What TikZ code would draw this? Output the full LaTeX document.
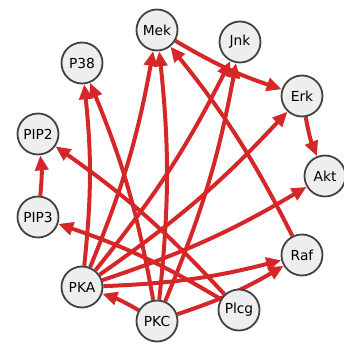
\documentclass[tikz,border=0pt]{standalone}
\usepackage{fontspec}
\setmainfont{DejaVu Sans}
\usetikzlibrary{arrows.meta}
\definecolor{edgered}{RGB}{214,39,40}
\definecolor{nodefill}{RGB}{238,238,238}
\definecolor{nodeline}{RGB}{66,66,66}
\pgfdeclarelayer{edges}
\pgfsetlayers{edges,main}
\begin{document}
\begin{tikzpicture}[x=1pt,y=-1pt,
  vert/.style={circle, draw=nodeline, fill=nodefill, line width=1.8pt,
    minimum size=41pt, inner sep=0pt, font=\fontsize{13.8}{16}\selectfont},
  link/.style={draw=edgered, line width=4pt,
    -{Triangle[length=15pt,width=13pt]}, bend right=6}]
\useasboundingbox (0,0) rectangle (344,348);

% proteins of the signalling network, placed on a ring
\node[vert] (Mek)  at (157,30)  {Mek};
\node[vert] (Jnk)  at (240,42)  {Jnk};
\node[vert] (P38)  at (82,63)   {P38};
\node[vert] (Erk)  at (302,96)  {Erk};
\node[vert] (PIP2) at (38,134)  {PIP2};
\node[vert] (Akt)  at (325,176) {Akt};
\node[vert] (PIP3) at (38,217)  {PIP3};
\node[vert] (Raf)  at (302,255) {Raf};
\node[vert] (PKA)  at (82,287)  {PKA};
\node[vert] (Plcg) at (239,310) {Plcg};
\node[vert] (PKC)  at (157,321) {PKC};

% directed influences
\begin{pgfonlayer}{edges}
\draw[link] (PIP3) to (PIP2);
\draw[link] (Plcg) to (PIP2);
\draw[link] (Plcg) to (PIP3);
\draw[link] (PKA)  to (P38);
\draw[link] (PKC)  to (P38);
\draw[link] (PKA)  to (Mek);
\draw[link] (PKC)  to (Mek);
\draw[link] (Raf)  to (Mek);
\draw[link] (Mek)  to (Erk);
\draw[link] (PKA)  to (Jnk);
\draw[link] (PKC)  to (Jnk);
\draw[link] (PKA)  to (Erk);
\draw[link] (Erk)  to (Akt);
\draw[link] (PKA)  to (Akt);
\draw[link] (PKA)  to (Raf);
\draw[link] (PKC)  to (Raf);
\draw[link] (PKC)  to (PKA);
\end{pgfonlayer}
\end{tikzpicture}
\end{document}
